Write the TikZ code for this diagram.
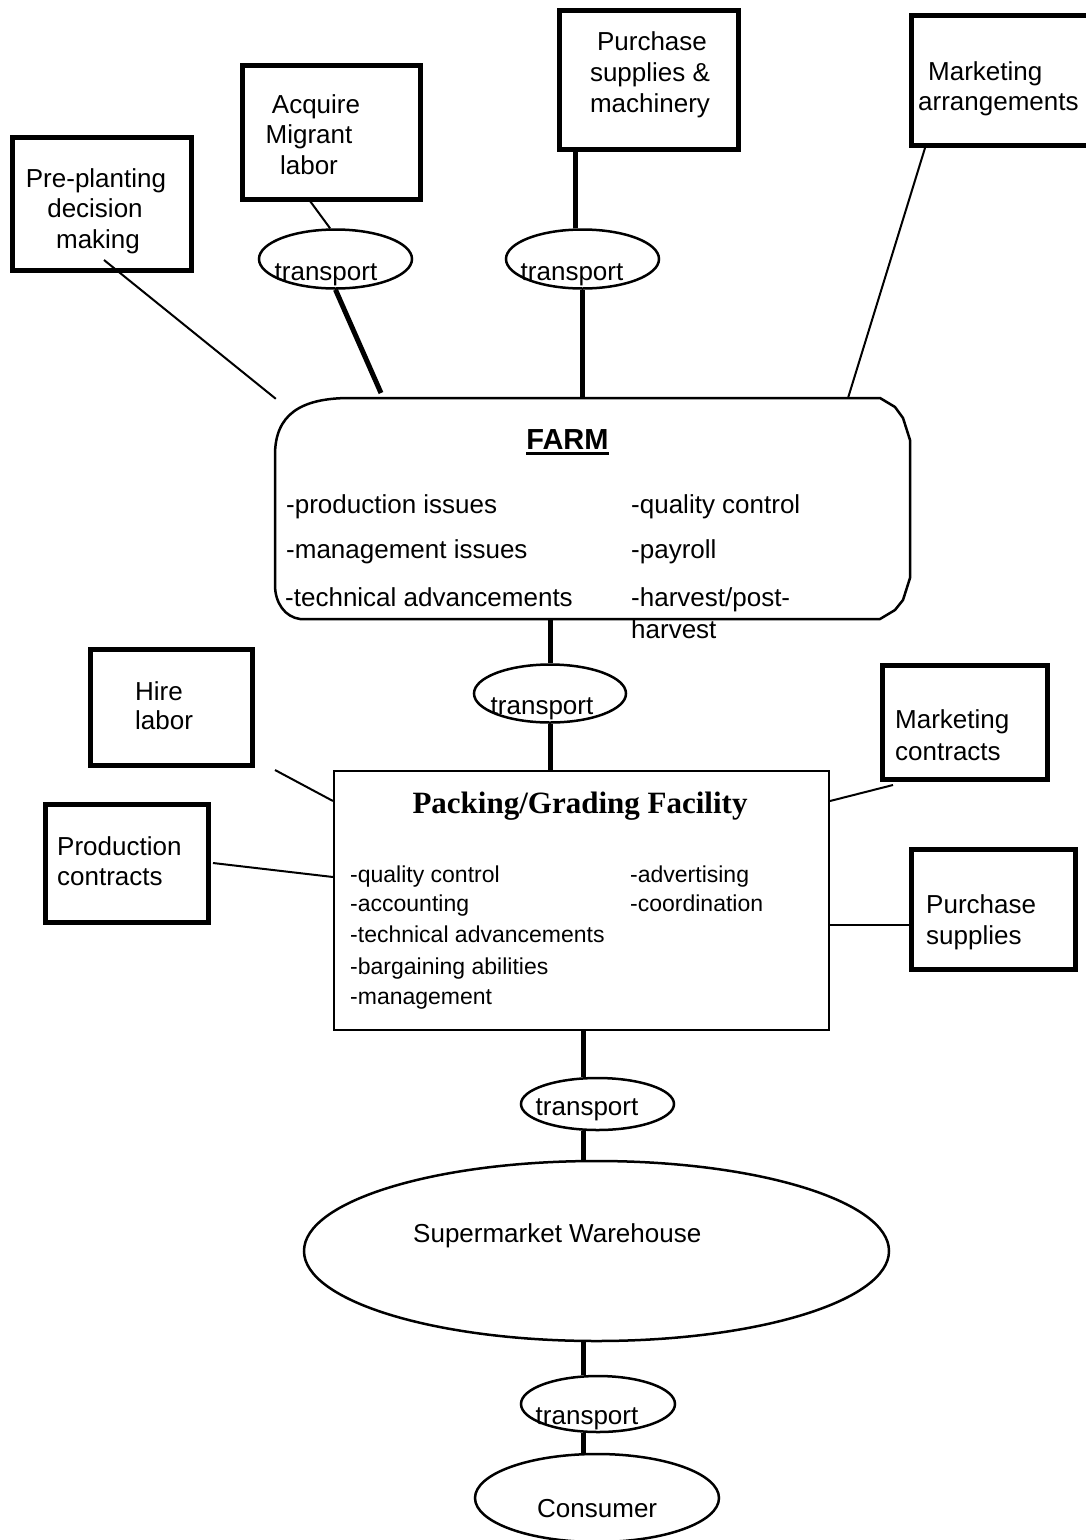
\documentclass[tikz,border=0pt]{standalone}
\usepackage{fontspec}
\setmainfont{Liberation Sans}
\newfontfamily\titleserif{Liberation Serif}
\usetikzlibrary{shapes.geometric,calc}
\newcommand\bodysize{\fontsize{26}{30}\selectfont}
\newcommand\listsize{\fontsize{23}{27}\selectfont}
% underlined heading with a heavier rule than \underline gives
\newcommand\farmtitle[1]{\setbox0\hbox{#1}\rlap{\rule[-5.5pt]{\wd0}{2.5pt}}\box0}
\begin{document}
\begin{tikzpicture}[x=1pt,y=-1pt,
  sidebox/.style={draw, line width=5pt, inner sep=0pt},
  oval/.style={draw, ellipse, line width=2.5pt, inner sep=0pt},
  thinline/.style={line width=2pt},
  thickline/.style={line width=5pt},
  txt/.style={inner sep=0pt, anchor=base, font=\bodysize},
  txtw/.style={inner sep=0pt, anchor=base west, font=\bodysize},
  listw/.style={inner sep=0pt, anchor=base west, font=\listsize},
]
\useasboundingbox (0,0) rectangle (1086,1540);

% ---------- side boxes ----------
\node[sidebox, minimum width=179pt, minimum height=133pt] (pre)    at (102,204)     {};
\node[sidebox, minimum width=178pt, minimum height=134pt] (acq)    at (331.5,132.5) {};
\node[sidebox, minimum width=179pt, minimum height=139pt] (pur)    at (649,80)      {};
\node[sidebox, minimum width=186pt, minimum height=130pt] (mkt)    at (1004.5,80.5) {};
\node[sidebox, minimum width=162pt, minimum height=116pt] (hire)   at (171.5,707.5) {};
\node[sidebox, minimum width=163pt, minimum height=118pt] (prod)   at (127,863.5)   {};
\node[sidebox, minimum width=165pt, minimum height=114pt] (mktc)   at (965,722.5)   {};
\node[sidebox, minimum width=164pt, minimum height=120pt] (pursup) at (993.5,909.5) {};

% ---------- main stages ----------
\node[inner sep=0pt, minimum width=633pt, minimum height=220pt] (farm) at (592.5,509) {};
\draw[line width=2.5pt, line join=round]
  (350,398) -- (880,398) -- (895,407) -- (903,418) -- (910,440) -- (910,578)
  -- (903,600) -- (895,610) -- (880,619) -- (300,619)
  .. controls (285,617) and (275,603) .. (275,585) -- (275,455)
  .. controls (275,415) and (300,398) .. (350,398) -- cycle;

\node[draw, line width=2pt, inner sep=0pt, minimum width=495pt, minimum height=259pt] (pack) at (581.5,900.5) {};

\node[oval, minimum width=153pt, minimum height=59pt]  (t1)   at (335.5,259)  {};
\node[oval, minimum width=153pt, minimum height=59pt]  (t2)   at (582.5,259)  {};
\node[oval, minimum width=152pt, minimum height=58pt]  (t3)   at (550,693.5)  {};
\node[oval, minimum width=153pt, minimum height=52pt]  (t4)   at (597.5,1104) {};
\node[oval, minimum width=585pt, minimum height=180pt] (wh)   at (596.5,1251) {};
\node[oval, minimum width=154pt, minimum height=56pt]  (t5)   at (598,1404)   {};
\node[oval, minimum width=244pt, minimum height=88pt]  (cons) at (597,1498)   {};

% ---------- connectors into the farm ----------
\coordinate (preTail) at (104,260);
\draw[thinline] (preTail) -- (farm.north west);
\coordinate (acqTail) at (310,201);
\draw[thinline] (acqTail) -- (t1.100);
\coordinate (farmA) at (381,393);
\draw[thickline] (t1.south) -- (farmA);
\coordinate (purFoot) at (575,150);
\draw[thickline] (purFoot) -- (purFoot |- t2.north);
\draw[thickline] (t2.south) -- (t2.south |- farm.north);
\coordinate (mktTail) at (925,148);
\coordinate (farmB) at (848,398);
\draw[thinline] (mktTail) -- (farmB);

% ---------- farm to packing ----------
\draw[thickline] (t3.north |- farm.south) -- (t3.north);
\draw[thickline] (t3.south) -- (t3.south |- pack.north);

% ---------- connectors into the packing facility ----------
\coordinate (hireTail) at (275,770);
\draw[thinline] (hireTail) -- ($(pack.north west)+(0,31)$);
\coordinate (prodTail) at (213,863);
\draw[thinline] (prodTail) -- ($(pack.north west)+(0,107)$);
\coordinate (mktcTail) at (893,785);
\draw[thinline] (mktcTail) -- ($(pack.north east)+(0,31)$);
\coordinate (psTip) at ($(pursup.west)+(0,15.5)$);
\draw[thinline] (psTip) -- (psTip -| pack.east);

% ---------- distribution chain ----------
\coordinate (spine) at ($(pack.south)+(2,0)$);
\draw[thickline] (spine) -- (spine |- t4.north);
\draw[thickline] (spine |- t4.south) -- (spine |- wh.north);
\draw[thickline] (spine |- wh.south) -- (spine |- t5.north);
\draw[thickline] (spine |- t5.south) -- (spine |- cons.north);

% ---------- box labels ----------
\node[txt] (preL1) at (96,187) {Pre-planting};
\node[txt] (preL2) at (95,217) {decision};
\node[txt] (preL3) at (98,248) {making};
\node[txt] (acqL1) at (316,113) {Acquire};
\node[txt] (acqL2) at (309,143) {Migrant};
\node[txt] (acqL3) at (309,174) {labor};
\node[txt] (purL1) at (652,50)  {Purchase};
\node[txt] (purL2) at (650,81)  {supplies \&};
\node[txt] (purL3) at (650,112) {machinery};
\node[txtw] (mktL1) at (928,80)  {Marketing};
\node[txtw] (mktL2) at (918,110) {arrangements};
\node[txtw] (hireL1) at (135,700) {Hire};
\node[txtw] (hireL2) at (135,729) {labor};
\node[txtw] (prodL1) at (57,855) {Production};
\node[txtw] (prodL2) at (57,885) {contracts};
\node[txtw] (mktcL1) at (895,728) {Marketing};
\node[txtw] (mktcL2) at (895,760) {contracts};
\node[txtw] (psL1) at (926,913) {Purchase};
\node[txtw] (psL2) at (926,944) {supplies};

% ---------- farm contents ----------
\node[inner sep=0pt, anchor=base, font=\fontsize{29}{33}\selectfont\bfseries] (farmT) at (567.5,449) {\farmtitle{FARM}};
\node[txtw] (farmA1) at (286,513) {-production issues};
\node[txtw] (farmA2) at (286,558) {-management issues};
\node[txtw] (farmA3) at (285,606) {-technical advancements};
\node[txtw] (farmB1) at (631,513) {-quality control};
\node[txtw] (farmB2) at (631,558) {-payroll};
\node[txtw] (farmB3) at (631,606) {-harvest/post-};
\node[txtw] (farmB4) at (631,638) {harvest};

% ---------- packing contents ----------
\node[inner sep=0pt, anchor=base, font=\titleserif\bfseries\fontsize{31}{35}\selectfont] (packT) at (580,813) {Packing/Grading Facility};
\node[listw] (packA1) at (350,882)  {-quality control};
\node[listw] (packA2) at (350,911)  {-accounting};
\node[listw] (packA3) at (350,942)  {-technical advancements};
\node[listw] (packA4) at (350,974)  {-bargaining abilities};
\node[listw] (packA5) at (350,1004) {-management};
\node[listw] (packB1) at (630,882)  {-advertising};
\node[listw] (packB2) at (630,911)  {-coordination};

% ---------- oval labels ----------
\node[txt] (t1L) at (326,280)  {transport};
\node[txt] (t2L) at (572,280)  {transport};
\node[txt] (t3L) at (542,714)  {transport};
\node[txt] (t4L) at (587,1115) {transport};
\node[txt] (t5L) at (587,1424) {transport};
\node[txtw] (whL) at (413,1242) {Supermarket Warehouse};
\node[txtw] (consL) at (537,1517) {Consumer};
\end{tikzpicture}
\end{document}
